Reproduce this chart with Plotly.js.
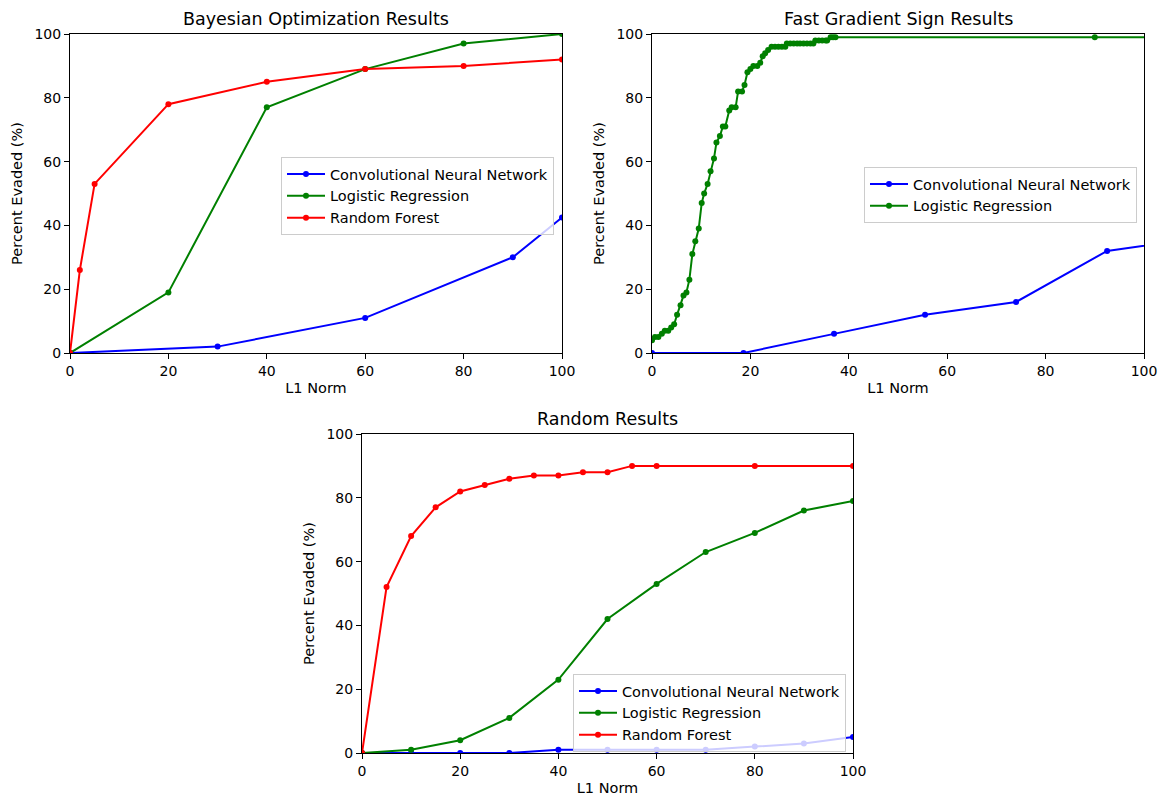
<!DOCTYPE html>
<html>
<head>
<meta charset="utf-8">
<script src="https://cdn.plot.ly/plotly-3.0.1.min.js"></script>
<style>html,body{margin:0;padding:0;background:#fff;}#chart{width:1166px;height:801px;}</style>
</head>
<body>
<div id="chart"></div>
<script>
// ---------- Bayesian Optimization ----------
const bayesCnnX = [0, 30, 60, 90, 100, 110];
const bayesCnnY = [0, 2, 11, 30, 42.5, 55];
const bayesLrX = [0, 20, 40, 60, 80, 100];
const bayesLrY = [0, 19, 77, 89, 97, 100];
const bayesRfX = [0, 2, 5, 20, 40, 60, 80, 100];
const bayesRfY = [0, 26, 53, 78, 85, 89, 90, 92];

// ---------- Fast Gradient Sign ----------
const fgsCnnX = [0, 18.6, 37, 55.5, 74, 92.5, 111];
const fgsCnnY = [0, 0, 6, 12, 16, 32, 36];
const fgsLrX = [0, 0.6, 1.3, 2.0, 2.6, 3.3, 3.9, 4.5, 5.1, 5.8, 6.4, 7.0, 7.6, 8.2, 8.8, 9.5, 10.1, 10.6, 11.3, 11.9, 12.6, 13.1, 13.8, 14.4, 14.9, 15.7, 16.2, 17.0, 17.5, 18.3, 18.8, 19.4, 20.0, 20.6, 21.4, 22.0, 22.5, 23.0, 23.6, 24.3, 25.0, 25.7, 26.4, 27.1, 27.4, 28.1, 28.8, 29.5, 30.1, 30.8, 31.5, 32.2, 32.8, 33.2, 33.9, 34.6, 35.3, 35.6, 36.3, 36.8, 37.3, 90, 110];
const fgsLrY = [4, 5, 5, 6, 7, 7, 8, 9, 12, 15, 18, 19, 23, 31, 35, 39, 47, 50, 53, 57, 61, 66, 68, 71, 71, 76, 77, 77, 82, 82, 84, 88, 89, 90, 90, 91, 93, 94, 95, 96, 96, 96, 96, 96, 97, 97, 97, 97, 97, 97, 97, 97, 97, 98, 98, 98, 98, 98, 99, 99, 99, 99, 99];

// ---------- Random ----------
const randCnnX = [0, 10, 20, 30, 40, 50, 60, 70, 80, 90, 100];
const randCnnY = [0, 0, 0, 0, 1, 1, 1, 1, 2, 3, 5];
const randLrX = [0, 10, 20, 30, 40, 50, 60, 70, 80, 90, 100];
const randLrY = [0, 1, 4, 11, 23, 42, 53, 63, 69, 76, 79];
const randRfX = [0, 5, 10, 15, 20, 25, 30, 35, 40, 45, 50, 55, 60, 80, 100];
const randRfY = [0, 52, 68, 77, 82, 84, 86, 87, 87, 88, 88, 90, 90, 90, 90];

const names = ["Convolutional Neural Network", "Logistic Regression", "Random Forest"];
const colors = ["#0000ff", "#008000", "#ff0000"];
const titles = ["Bayesian Optimization Results", "Fast Gradient Sign Results", "Random Results"];
const tickVals = [0, 20, 40, 60, 80, 100];
const xLabel = "L1 Norm";
const yLabel = "Percent Evaded (%)";

const FONT = "DejaVu Sans, sans-serif";
const TICK = 14, LAB = 14.5, LEG = 14.5, TTL = 17.5;

function tr(x, y, i, xa, ya, lg) {
  return {
    x: x, y: y, type: "scatter", mode: "lines+markers", name: names[i],
    xaxis: xa, yaxis: ya, legend: lg,
    line: {color: colors[i], width: 2},
    marker: {color: colors[i], size: 6},
    cliponaxis: true
  };
}

const data = [
  tr(bayesCnnX, bayesCnnY, 0, "x", "y", "legend"),
  tr(bayesLrX, bayesLrY, 1, "x", "y", "legend"),
  tr(bayesRfX, bayesRfY, 2, "x", "y", "legend"),
  tr(fgsCnnX, fgsCnnY, 0, "x2", "y2", "legend2"),
  tr(fgsLrX, fgsLrY, 1, "x2", "y2", "legend2"),
  tr(randCnnX, randCnnY, 0, "x3", "y3", "legend3"),
  tr(randLrX, randLrY, 1, "x3", "y3", "legend3"),
  tr(randRfX, randRfY, 2, "x3", "y3", "legend3")
];

function xax(dom, anchor) {
  return {
    domain: dom, anchor: anchor, range: [0, 100], tickvals: tickVals,
    showgrid: false, zeroline: false, showline: true, mirror: true,
    linecolor: "#000", linewidth: 1, ticks: "outside", ticklen: 5, tickcolor: "#000",
    tickfont: {family: FONT, size: TICK, color: "#000"},
    title: {text: xLabel, font: {family: FONT, size: LAB, color: "#000"}, standoff: 5}
  };
}
function yax(dom, anchor) {
  return {
    domain: dom, anchor: anchor, range: [0, 100], tickvals: tickVals,
    showgrid: false, zeroline: false, showline: true, mirror: true,
    linecolor: "#000", linewidth: 1, ticks: "outside", ticklen: 5, tickcolor: "#000",
    tickfont: {family: FONT, size: TICK, color: "#000"},
    title: {text: yLabel, font: {family: FONT, size: LAB, color: "#000"}, standoff: 8}
  };
}
function leg(x, y) {
  return {
    x: x, y: y, xanchor: "left", yanchor: "top",
    bgcolor: "rgba(255,255,255,0.8)", bordercolor: "#cccccc", borderwidth: 1,
    font: {family: FONT, size: LEG, color: "#000"},
    itemwidth: 38
  };
}

const W = 1166, H = 801;
const layout = {
  width: W, height: H, autosize: false,
  margin: {l: 0, r: 0, t: 0, b: 0},
  paper_bgcolor: "#fff", plot_bgcolor: "#fff",
  showlegend: true,
  font: {family: FONT, color: "#000"},
  xaxis: xax([70 / W, 562 / W], "y"),
  yaxis: yax([1 - 353 / H, 1 - 34 / H], "x"),
  xaxis2: xax([652 / W, 1144 / W], "y2"),
  yaxis2: yax([1 - 353 / H, 1 - 34 / H], "x2"),
  xaxis3: xax([362 / W, 853 / W], "y3"),
  yaxis3: yax([1 - 753 / H, 1 - 434 / H], "x3"),
  legend: leg(281 / W, 1 - 157 / H),
  legend2: leg(864 / W, 1 - 167 / H),
  legend3: leg(573 / W, 1 - 674 / H),
  annotations: [
    {text: titles[0], x: 316 / W, y: 1 - 19 / H, xref: "paper", yref: "paper", showarrow: false, xanchor: "center", yanchor: "middle", font: {family: FONT, size: TTL, color: "#000"}},
    {text: titles[1], x: 898 / W, y: 1 - 19 / H, xref: "paper", yref: "paper", showarrow: false, xanchor: "center", yanchor: "middle", font: {family: FONT, size: TTL, color: "#000"}},
    {text: titles[2], x: 607 / W, y: 1 - 419 / H, xref: "paper", yref: "paper", showarrow: false, xanchor: "center", yanchor: "middle", font: {family: FONT, size: TTL, color: "#000"}}
  ]
};

Plotly.newPlot("chart", data, layout, {staticPlot: true, displayModeBar: false});
</script>
</body>
</html>
